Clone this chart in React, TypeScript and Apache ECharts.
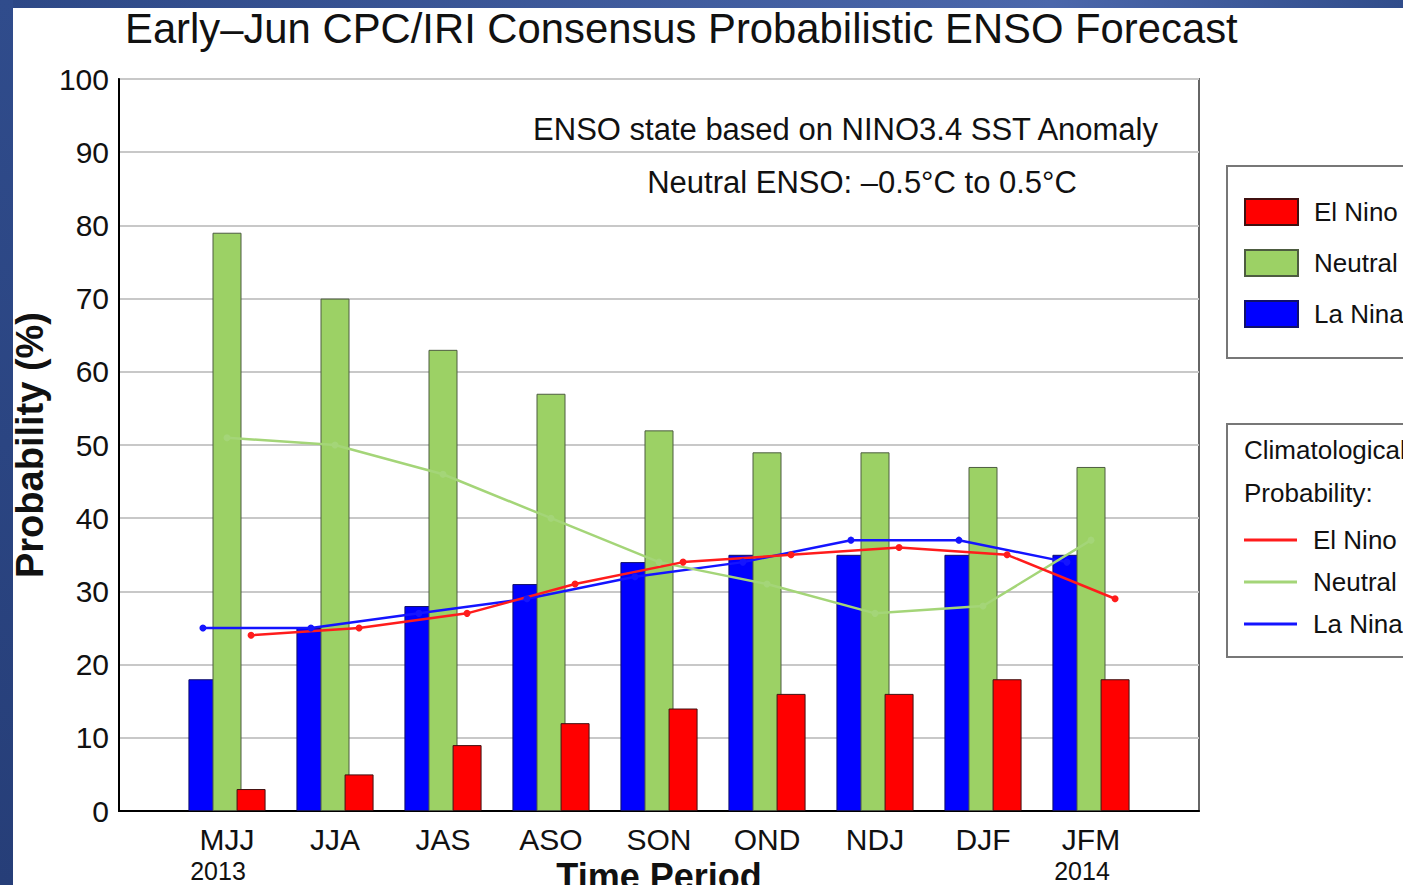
import React, { useEffect, useRef } from "react";
import * as echarts from "echarts";

// ---- data ----
const periods = ["MJJ", "JJA", "JAS", "ASO", "SON", "OND", "NDJ", "DJF", "JFM"];
const periodYears = ["2013", "", "", "", "", "", "", "", "2014"];
const laNinaProb = [18, 25, 28, 31, 34, 35, 35, 35, 35];
const neutralProb = [79, 70, 63, 57, 52, 49, 49, 47, 47];
const elNinoProb = [3, 5, 9, 12, 14, 16, 16, 18, 18];
const climLaNina = [25, 25, 27, 29, 32, 34, 37, 37, 34];
const climNeutral = [51, 50, 46, 40, 34, 31, 27, 28, 37];
const climElNino = [24, 25, 27, 31, 34, 35, 36, 35, 29];

const chartTitle = "Early–Jun CPC/IRI Consensus Probabilistic ENSO Forecast";
const note1 = "ENSO state based on NINO3.4 SST Anomaly";
const note2 = "Neutral ENSO: –0.5°C to 0.5°C";
const climHeading1 = "Climatological";
const climHeading2 = "Probability:";

// ---- layout / style ----
const W = 1403;
const H = 885;
const GRID = { left: 119, top: 79, width: 1080, height: 732 };
const BAR_W = 29;
const BAR_GAP = -0.17;
const FONT = "'Liberation Sans', Arial, Helvetica, sans-serif";
const TXT = "#111111";

export default function App() {
  const ref = useRef<HTMLDivElement>(null);

  useEffect(() => {
    const el = ref.current!;
    const chart = echarts.init(el, null, { renderer: "svg" });

    const slots = periods.length + 1;
    const axisCats = ["", ...periods, ""];
    const pad = (arr: number[]) => ["-", ...arr, "-"];
    const step = (BAR_W * (1 + BAR_GAP)) / (GRID.width / slots);
    const pts = (arr: number[], off: number) => arr.map((v, i) => [i + 1 + off, v]);

    const lineSeries = (name: string, arr: number[], off: number, color: string) => ({
      name,
      type: "line",
      xAxisIndex: 1,
      yAxisIndex: 0,
      data: pts(arr, off),
      symbol: "circle",
      symbolSize: 7,
      showSymbol: true,
      lineStyle: { color, width: 2.5 },
      itemStyle: { color },
      z: 4,
      silent: true,
    });

    const textEl = (text: string, x: number, y: number, size: number, align: string) => ({
      type: "text",
      x,
      y,
      z: 10,
      style: {
        text,
        fill: TXT,
        fontSize: size,
        fontFamily: FONT,
        align,
        textAlign: align,
        verticalAlign: "middle",
        textVerticalAlign: "middle",
      },
    });

    const option: any = {
      animation: false,
      backgroundColor: "#ffffff",
      textStyle: { fontFamily: FONT, color: TXT },
      title: {
        text: chartTitle,
        left: 125,
        top: 7,
        padding: 0,
        textStyle: { fontSize: 41.8, fontWeight: "normal", color: TXT, fontFamily: FONT },
      },
      grid: {
        left: GRID.left,
        top: GRID.top,
        width: GRID.width,
        height: GRID.height,
        containLabel: false,
        outerBoundsMode: "none",
        show: true,
        borderColor: "#666666",
        borderWidth: 2,
        backgroundColor: "#ffffff",
      },
      legend: [
        {
          data: ["El Nino", "Neutral", "La Nina"],
          orient: "vertical",
          left: 1227,
          top: 166,
          padding: [32, 70, 30, 17],
          itemWidth: 53,
          itemHeight: 26,
          itemGap: 23,
          icon: "rect",
          borderColor: "#777777",
          borderWidth: 2,
          backgroundColor: "#ffffff",
          selectedMode: false,
          textStyle: { fontSize: 26, color: TXT, fontFamily: FONT, padding: [0, 0, 0, 11] },
        },
        {
          data: ["Clim El Nino", "Clim Neutral", "Clim La Nina"],
          formatter: (n: string) => n.replace("Clim ", ""),
          orient: "vertical",
          left: 1227,
          top: 424,
          padding: [103, 70, 20, 17],
          itemWidth: 53,
          itemHeight: 3,
          itemGap: 16,
          icon: "rect",
          borderColor: "#777777",
          borderWidth: 2,
          backgroundColor: "#ffffff",
          selectedMode: false,
          textStyle: { fontSize: 26, color: TXT, fontFamily: FONT, padding: [0, 0, 0, 11] },
        },
      ],
      xAxis: [
        {
          type: "category",
          data: axisCats,
          boundaryGap: false,
          axisLine: { show: true, lineStyle: { color: "#000000", width: 2 } },
          axisTick: { show: false },
          splitLine: { show: false },
          axisLabel: {
            interval: 0,
            margin: 12,
            formatter: (value: string, index: number) => {
              const i = index - 1;
              if (i < 0 || i >= periods.length) return "";
              return periodYears[i] ? `{p|${value}}\n{y|${periodYears[i]}}` : `{p|${value}}`;
            },
            rich: {
              p: { fontSize: 30, lineHeight: 32, color: TXT, fontFamily: FONT },
              y: { fontSize: 25, lineHeight: 32, color: TXT, fontFamily: FONT, padding: [0, 18, 0, 0] },
            },
          },
          name: "Time Period",
          nameLocation: "middle",
          nameGap: 47,
          nameMoveOverlap: false,
          nameTextStyle: { fontSize: 36, fontWeight: "bold", color: TXT, fontFamily: FONT },
        },
        {
          type: "value",
          gridIndex: 0,
          min: 0,
          max: slots,
          show: false,
        },
      ],
      yAxis: {
        type: "value",
        min: 0,
        max: 100,
        interval: 10,
        axisLine: { show: true, lineStyle: { color: "#000000", width: 2 } },
        axisTick: { show: false },
        axisLabel: { fontSize: 30, margin: 10, color: TXT, fontFamily: FONT },
        splitLine: { show: true, lineStyle: { color: "#c8c8c8", width: 2 } },
        name: "Probability (%)",
        nameLocation: "middle",
        nameRotate: 90,
        nameGap: 70,
        nameMoveOverlap: false,
        nameTextStyle: { fontSize: 38, fontWeight: "bold", color: TXT, fontFamily: FONT },
      },
      series: [
        {
          name: "La Nina",
          type: "bar",
          data: pad(laNinaProb),
          barWidth: BAR_W,
          barGap: `${BAR_GAP * 100}%`,
          itemStyle: { color: "#0000ff", borderColor: "#10106a", borderWidth: 1 },
          silent: true,
        },
        {
          name: "Neutral",
          type: "bar",
          data: pad(neutralProb),
          barWidth: BAR_W,
          barGap: `${BAR_GAP * 100}%`,
          itemStyle: { color: "#9cd165", borderColor: "#4d5c40", borderWidth: 1 },
          silent: true,
        },
        {
          name: "El Nino",
          type: "bar",
          data: pad(elNinoProb),
          barWidth: BAR_W,
          barGap: `${BAR_GAP * 100}%`,
          itemStyle: { color: "#ff0000", borderColor: "#401010", borderWidth: 1 },
          silent: true,
        },
        lineSeries("Clim La Nina", climLaNina, -step, "#1414ff"),
        lineSeries("Clim Neutral", climNeutral, 0, "#a4d578"),
        lineSeries("Clim El Nino", climElNino, step, "#ff1c1c"),
      ],
      graphic: [
        textEl(note1, 1158, 129, 31, "right"),
        textEl(note2, 862, 182, 31, "center"),
        textEl(climHeading1, 1244, 450, 26, "left"),
        textEl(climHeading2, 1244, 493, 26, "left"),
        {
          type: "rect",
          z: 100,
          shape: { x: 0, y: 0, width: W, height: 8 },
          style: {
            fill: new echarts.graphic.LinearGradient(0, 0, 1, 0, [
              { offset: 0, color: "#2d4886" },
              { offset: 0.75, color: "#4b67ab" },
              { offset: 1, color: "#314d8b" },
            ]),
          },
        },
        {
          type: "rect",
          z: 100,
          shape: { x: 0, y: 0, width: 13, height: H },
          style: {
            fill: new echarts.graphic.LinearGradient(0, 0, 0, 1, [
              { offset: 0, color: "#304c8c" },
              { offset: 1, color: "#263e78" },
            ]),
          },
        },
      ],
    };

    chart.setOption(option);
    return () => chart.dispose();
  }, []);

  return (
    <div
      ref={ref}
      style={{ position: "fixed", left: 0, top: 0, width: W, height: H, background: "#ffffff" }}
    />
  );
}
